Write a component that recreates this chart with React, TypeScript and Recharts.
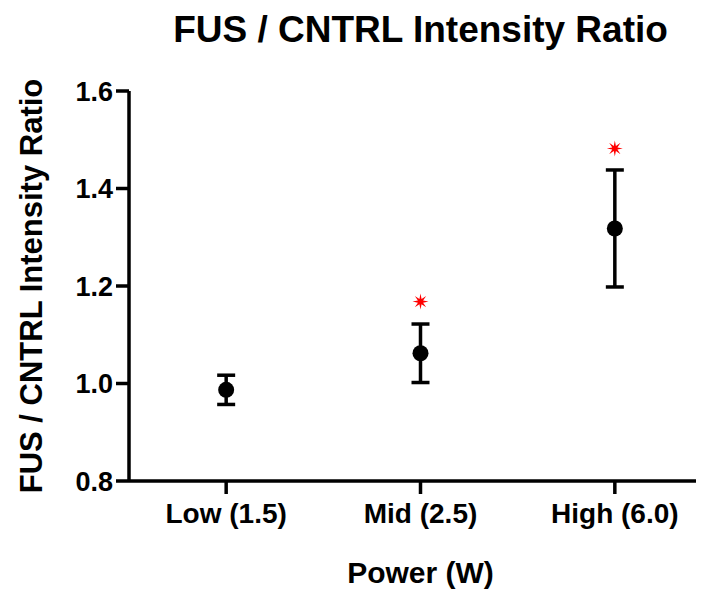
import React from "react"
import {
  ComposedChart,
  Line,
  XAxis,
  YAxis,
  ErrorBar,
  Label,
} from "recharts"

const categories = ["Low (1.5)", "Mid (2.5)", "High (6.0)"]
const ratioMeans = [0.987, 1.062, 1.318]
const ratioErrors = [0.03, 0.06, 0.12]
const starLevels = [null, 1.168, 1.482]
const yTicks = [0.8, 1.0, 1.2, 1.4, 1.6]

const data = categories.map((name, i) => ({
  name,
  mean: ratioMeans[i],
  err: ratioErrors[i],
  star: starLevels[i],
}))

const font = "'Liberation Sans', Arial, Helvetica, sans-serif"

function StarDot(props: any) {
  const { cx, cy, index, value } = props
  if (value == null || cx == null || cy == null) return <g key={`s-${index}`} />
  const pts: string[] = []
  for (let k = 0; k < 16; k++) {
    const r = k % 2 === 0 ? 8 : 2.8
    const a = (Math.PI * k) / 8 - Math.PI / 2
    pts.push(`${cx + r * Math.cos(a)},${cy + r * Math.sin(a)}`)
  }
  return <polygon key={`s-${index}`} points={pts.join(" ")} fill="#ff0000" />
}

export default function App() {
  return (
    <div style={{ position: "relative", width: 696, height: 582, overflow: "hidden", fontFamily: font }}>
      <div
        style={{
          position: "absolute",
          left: 121,
          width: 583,
          top: 3,
          textAlign: "center",
          fontSize: 37,
          lineHeight: "37px",
          fontWeight: 700,
          color: "#000",
        }}
      >
        FUS / CNTRL Intensity Ratio
      </div>
      <ComposedChart
        width={704}
        height={582}
        data={data}
        margin={{ top: 83, right: 0, bottom: 0, left: 0 }}
      >
        <XAxis
          dataKey="name"
          scale="band"
          height={109}
          axisLine={{ stroke: "#000", strokeWidth: 3.5 }}
          tickLine={{ stroke: "#000", strokeWidth: 3.5 }}
          tickSize={13}
          tickMargin={9}
          tick={{ fill: "#000", fontSize: 28, fontWeight: 700, fontFamily: font }}
        >
          <Label
            content={({ viewBox }: any) => (
              <text
                x={viewBox.x + viewBox.width / 2}
                y={575}
                textAnchor="middle"
                fill="#000"
                fontSize={30}
                fontWeight={700}
                fontFamily={font}
              >
                Power (W)
              </text>
            )}
          />
        </XAxis>
        <YAxis
          width={121}
          domain={[0.8, 1.6]}
          ticks={yTicks}
          allowDataOverflow
          axisLine={{ stroke: "#000", strokeWidth: 3.5 }}
          tickLine={{ stroke: "#000", strokeWidth: 3.5 }}
          tickSize={13}
          tickMargin={3}
          tickFormatter={(v: number) => v.toFixed(1)}
          tick={{ fill: "#000", fontSize: 27, fontWeight: 700, fontFamily: font }}
        >
          <Label
            content={({ viewBox }: any) => {
              const cy = viewBox.y + viewBox.height / 2
              return (
                <text
                  x={34}
                  y={cy}
                  transform={`rotate(-90, 34, ${cy})`}
                  textAnchor="middle"
                  fill="#000"
                  fontSize={31}
                  fontWeight={700}
                  fontFamily={font}
                >
                  FUS / CNTRL Intensity Ratio
                </text>
              )
            }}
          />
        </YAxis>
        <Line
          dataKey="mean"
          stroke="none"
          isAnimationActive={false}
          activeDot={false}
          dot={{ r: 8, fill: "#000", stroke: "none" }}
        >
          <ErrorBar dataKey="err" direction="y" width={9} stroke="#000" strokeWidth={3.5} />
        </Line>
        <Line
          dataKey="star"
          stroke="none"
          isAnimationActive={false}
          activeDot={false}
          dot={StarDot}
        />
      </ComposedChart>
    </div>
  )
}
